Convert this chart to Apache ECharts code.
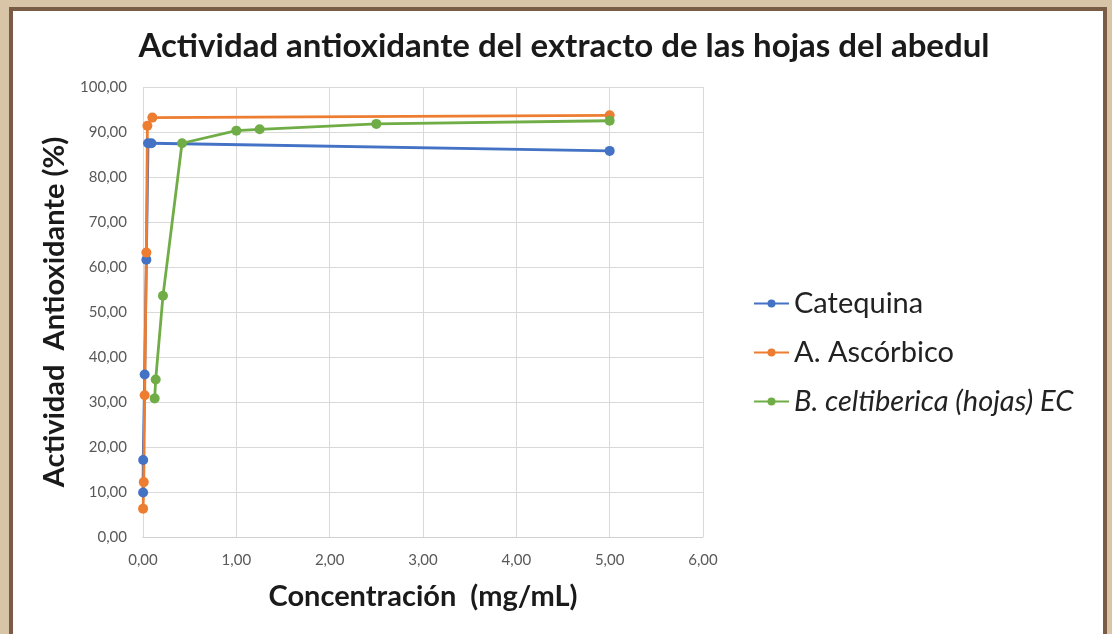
<!DOCTYPE html>
<html>
<head>
<meta charset="utf-8">
<script src="https://cdn.jsdelivr.net/npm/echarts@6/dist/echarts.min.js"></script>
<style>
  html, body { margin: 0; padding: 0; }
  body { width: 1112px; height: 634px; background: #d8c5a7; position: relative; overflow: hidden; }
  #frame { position: absolute; left: 9px; top: 7px; width: 1090px; height: 640px; border: 4px solid #7a5b45; background: #fff; }
  #echart { position: absolute; left: 0; top: 0; width: 1112px; height: 634px; }
</style>
</head>
<body>
<div id="frame"></div>
<div id="echart"></div>
<script>
// series names
var seriesNames = ['Catequina', 'A. Ascórbico', 'B. celtiberica (hojas) EC'];

// concentration (mg/mL) and activity (%)
var catequinaX = [0.001, 0.002, 0.018, 0.036, 0.054, 0.09, 5.0];
var catequinaY = [9.9, 17.1, 36.1, 61.6, 87.5, 87.5, 85.8];

var ascorbicoX = [0.001, 0.008, 0.018, 0.036, 0.047, 0.1, 5.0];
var ascorbicoY = [6.3, 12.2, 31.5, 63.2, 91.4, 93.2, 93.7];

var celtibericaX = [0.125, 0.136, 0.214, 0.418, 1.0, 1.25, 2.5, 5.0];
var celtibericaY = [30.8, 35.0, 53.6, 87.5, 90.3, 90.6, 91.8, 92.5];

function pairs(xs, ys) {
    return xs.map(function (x, i) { return [x, ys[i]]; });
}
function comma(v) {
    return v.toFixed(2).replace('.', ',');
}

var font = 'Lato, "Open Sans", sans-serif';

var option = {
    animation: false,
    color: ['#4472c4', '#ed7d31', '#70ad47'],
    title: {
        text: 'Actividad antioxidante del extracto de las hojas del abedul',
        left: 559,
        textAlign: 'center',
        top: 25,
        textStyle: { fontFamily: font, fontSize: 33, fontWeight: 'bold', color: '#1a1a1a' }
    },
    legend: {
        orient: 'vertical',
        left: 748,
        top: 284,
        itemWidth: 35,
        itemHeight: 10,
        itemGap: 20,
        data: seriesNames,
        textStyle: {
            fontFamily: font, fontSize: 29, color: '#222',
            rich: { i: { fontFamily: font, fontSize: 29, color: '#222', fontStyle: 'italic' } }
        },
        formatter: function (name) {
            return name.indexOf('B.') === 0 ? '{i|' + name + '}' : name;
        }
    },
    grid: { left: 143, right: 409, top: 87, bottom: 97 },
    xAxis: {
        type: 'value',
        min: 0, max: 6, interval: 1,
        name: 'Concentración  (mg/mL)',
        nameLocation: 'middle',
        nameGap: 45,
        nameTextStyle: { fontFamily: font, fontSize: 29, fontWeight: 'bold', color: '#1a1a1a' },
        axisLine: { lineStyle: { color: '#d0d0d0' } },
        axisTick: { show: false },
        axisLabel: { formatter: comma, margin: 16, fontFamily: font, fontSize: 15, color: '#595959' },
        splitLine: { show: true, lineStyle: { color: '#d9d9d9' } }
    },
    yAxis: {
        type: 'value',
        min: 0, max: 100, interval: 10,
        name: 'Actividad  Antioxidante (%)',
        nameLocation: 'middle',
        nameGap: 70,
        nameTextStyle: { fontFamily: font, fontSize: 29, fontWeight: 'bold', color: '#1a1a1a' },
        axisLine: { show: false },
        axisTick: { show: false },
        axisLabel: { formatter: comma, margin: 16, fontFamily: font, fontSize: 15, color: '#595959' },
        splitLine: { show: true, lineStyle: { color: '#d9d9d9' } }
    },
    series: [
        {
            name: seriesNames[0], type: 'line', data: pairs(catequinaX, catequinaY),
            symbol: 'circle', symbolSize: 10, lineStyle: { width: 2.8 }
        },
        {
            name: seriesNames[1], type: 'line', data: pairs(ascorbicoX, ascorbicoY),
            symbol: 'circle', symbolSize: 10, lineStyle: { width: 2.8 }
        },
        {
            name: seriesNames[2], type: 'line', data: pairs(celtibericaX, celtibericaY),
            symbol: 'circle', symbolSize: 10, lineStyle: { width: 2.8 }
        }
    ]
};
echarts.init(document.getElementById('echart')).setOption(option);
</script>
</body>
</html>
